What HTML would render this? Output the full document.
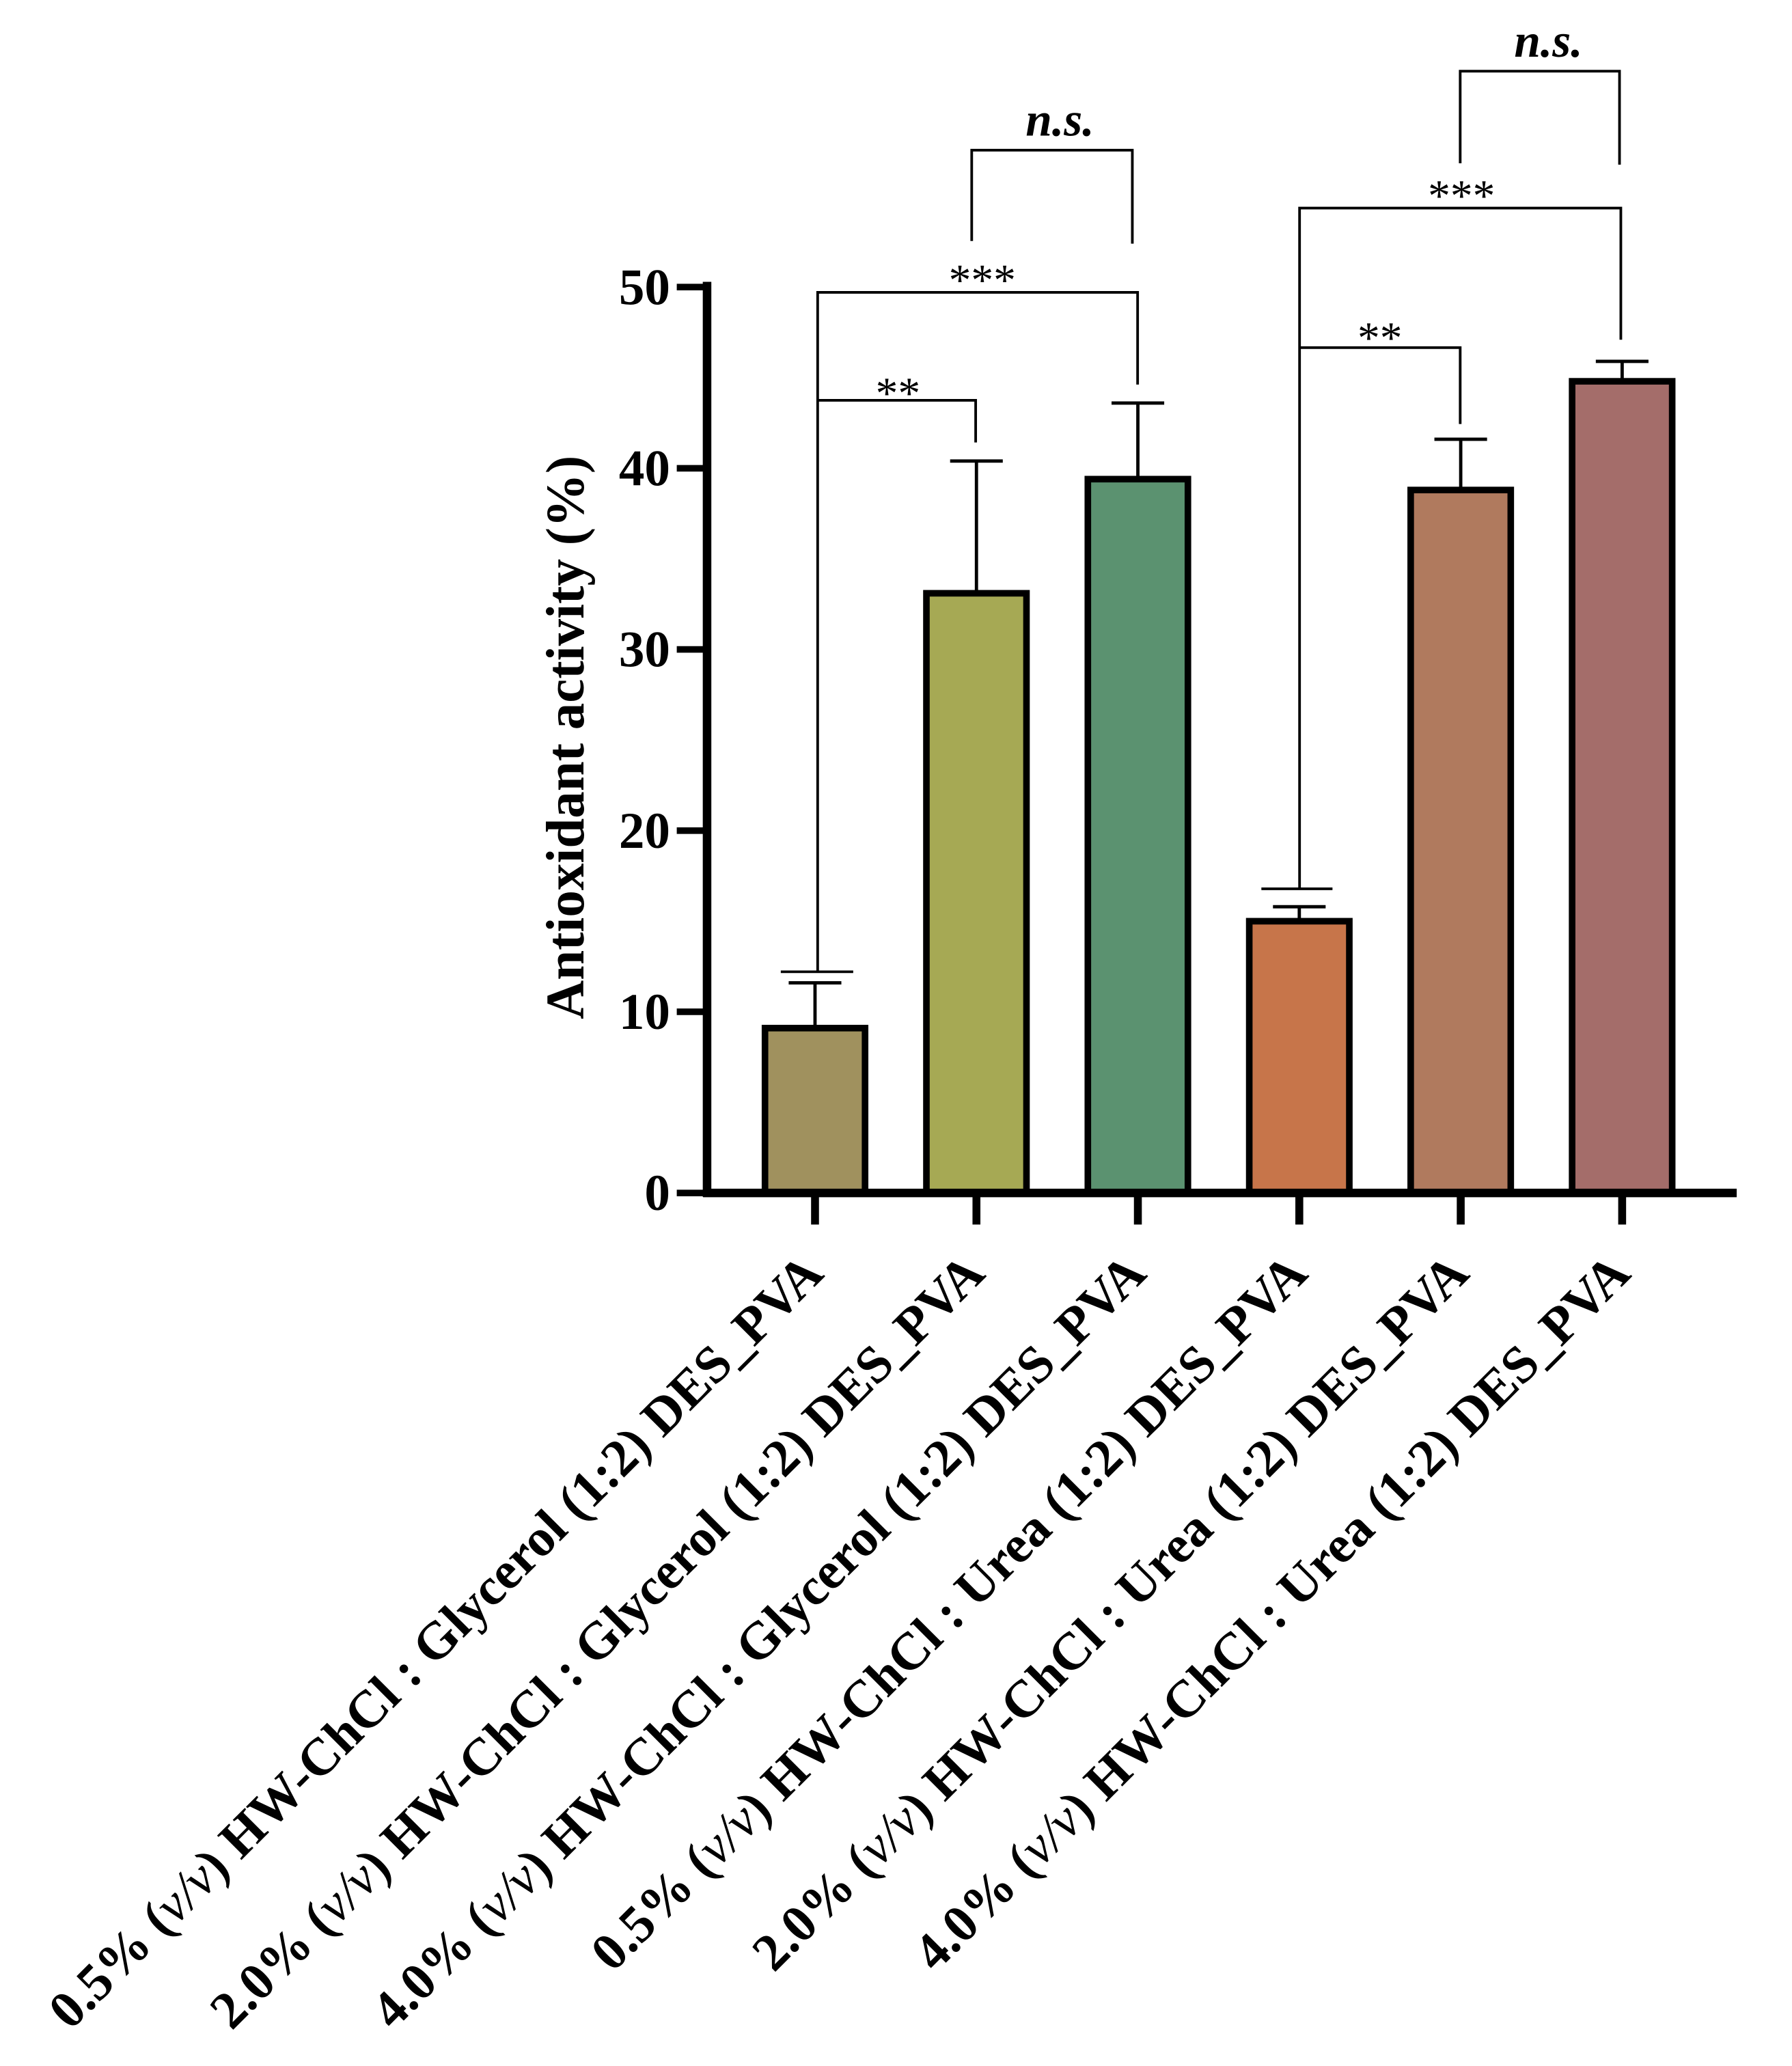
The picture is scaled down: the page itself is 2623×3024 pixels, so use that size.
<!DOCTYPE html>
<html><head><meta charset="utf-8"><style>html,body{margin:0;padding:0;background:#fff}svg{display:block}</style></head>
<body>
<svg id="chart" width="2623" height="3024" viewBox="0 0 1361 1569" xmlns="http://www.w3.org/2000/svg" font-family="'Liberation Serif', serif">
<g id="g"></g>
</svg>
<script>
const categories = ["0.5%", "2.0%", "4.0%", "0.5%", "2.0%", "4.0%"];
const dess = ["Glycerol", "Glycerol", "Glycerol", "Urea", "Urea", "Urea"];
const values = [9.1, 33.1, 39.4, 15.0, 38.8, 44.8];
const errors = [2.5, 7.3, 4.2, 0.8, 2.8, 1.1];
const colors = ["#A0915E", "#A6A954", "#5B9270", "#C7754A", "#B07A5E", "#A46D6A"];
const yTicks = [0, 10, 20, 30, 40, 50];

const NS = "http://www.w3.org/2000/svg";
const g = document.getElementById("g");
const x0 = 537, x1 = 1319, y0 = 906, yTop = 218;
const y = v => y0 - (v / 50) * (y0 - yTop);
const xc = i => 619 + i * 122.6;
function mk(tag, attrs, parent) {
  const e = document.createElementNS(NS, tag);
  for (const k in attrs) e.setAttribute(k, attrs[k]);
  (parent || g).appendChild(e);
  return e;
}
values.forEach((v, i) => {
  const top = y(v + errors[i]);
  const l = mk("line", {x1: xc(i), x2: xc(i), y1: y(v), y2: top, stroke: "#000", "stroke-width": 2.5});
  
  
  const c = mk("line", {x1: xc(i) - 20, x2: xc(i) + 20, y1: top, y2: top, stroke: "#000", "stroke-width": 2.5});
  
  
  const r = mk("rect", {x: xc(i) - 38, y: y(v), width: 76, height: y0 - y(v), fill: colors[i], stroke: "#000", "stroke-width": 5});
  
  
  const t = mk("line", {x1: xc(i), x2: xc(i), y1: y0, y2: 930, stroke: "#000", "stroke-width": 6});
  
  
  const lab = mk("text", {transform: `translate(${xc(i) + 8},969) rotate(-45)`, "text-anchor": "end", "font-size": 40, "font-weight": "bold"});
  
  
  lab.innerHTML = categories[i] + ' (<tspan font-style="italic" font-weight="normal">v/v</tspan>) HW-ChCl : ' + dess[i] + ' (1:2) DES_PVA';
});
const ya = mk("line", {x1: x0, x2: x0, y1: 214, y2: y0 + 3, stroke: "#000", "stroke-width": 6.5});


const xa = mk("line", {x1: x0 - 3, x2: x1, y1: y0, y2: y0, stroke: "#000", "stroke-width": 6.5});


yTicks.forEach(v => {
  const t = mk("line", {x1: 514, x2: x0, y1: y(v), y2: y(v), stroke: "#000", "stroke-width": 5});
  
  
  const tl = mk("text", {x: 509, y: y(v) + 13, "text-anchor": "end", "font-size": 39, "font-weight": "bold"});
  
  
  tl.textContent = v;
});
const yt = mk("text", {transform: "translate(443,560) rotate(-90)", "text-anchor": "middle", "font-size": 41, "font-weight": "bold"});


yt.textContent = "Antioxidant activity (%)";
function path(d, name) {
  const p = mk("path", {d: d, fill: "none", stroke: "#000", "stroke-width": 2});
  
  
}
function label(tx, ty, s, name, italic) {
  const t = mk("text", {x: tx, y: ty, "text-anchor": "middle", "font-size": italic ? 36 : 34, "font-weight": italic ? "bold" : "normal", "font-style": italic ? "italic" : "normal"});
  
  
  t.textContent = s;
}
path("M593,738 H648 M621,738 V222 H864 V292 M621,304 H741 V336", "glycerol-brackets");
path("M738,183 V114 H860 V185", "glycerol-ns-bracket");
label(682, 310, "**", "sig-label", false);
label(746, 224, "***", "sig-label", false);
label(805, 103, "n.s.", "ns-label", true);
path("M958,675 H1012 M987,675 V158 H1231 V258 M987,264 H1109 V322", "urea-brackets");
path("M1109,124 V54 H1230 V125", "urea-ns-bracket");
label(1048, 268, "**", "sig-label", false);
label(1110, 160, "***", "sig-label", false);
label(1176, 43, "n.s.", "ns-label", true);
</script>
</body></html>
